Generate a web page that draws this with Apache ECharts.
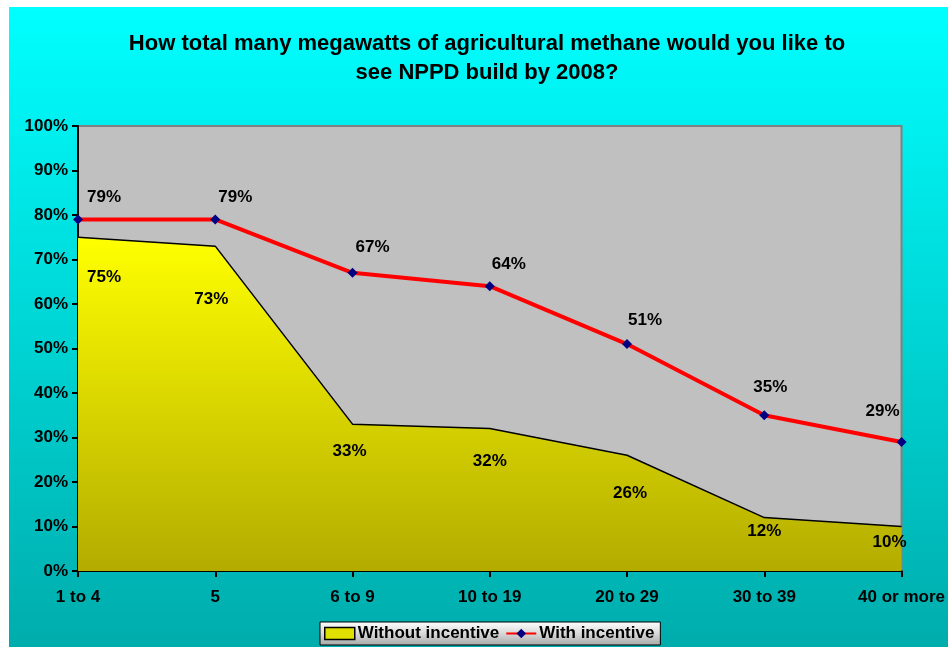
<!DOCTYPE html>
<html><head><meta charset="utf-8">
<script src="https://cdn.jsdelivr.net/npm/echarts@6/dist/echarts.min.js"></script>
<style>
html,body{margin:0;padding:0;background:#fff;width:948px;height:647px;overflow:hidden;}
#c{position:absolute;left:9px;top:7px;width:939px;height:640px;}
</style></head>
<body><div id="c"></div>
<script>
const titleText = 'How total many megawatts of agricultural methane would you like to\nsee NPPD build by 2008?';
const categories = ['1 to 4', '5', '6 to 9', '10 to 19', '20 to 29', '30 to 39', '40 or more'];
const withoutIncentive = [75, 73, 33, 32, 26, 12, 10];
const withIncentive = [79, 79, 67, 64, 51, 35, 29];
const yTicks = [0, 10, 20, 30, 40, 50, 60, 70, 80, 90, 100];
// label offsets (style only)
const withoutOffsets = [[26, 40], [-4, 53], [-3, 27], [0, 33], [3, 38], [0, 14], [-12, 16]];
const withOffsets = [[26, -22], [20, -22], [20, -26], [19, -22], [18, -24], [6, -28], [-19, -31]];

const chart = echarts.init(document.getElementById('c'), null, {renderer: 'canvas'});
const font = '"Liberation Sans", Arial, sans-serif';
const lbl = {fontFamily: font, fontWeight: 'bold', fontSize: 17, color: '#000'};

chart.setOption({
  animation: false,
  backgroundColor: new echarts.graphic.LinearGradient(0, 0, 0, 1, [
    {offset: 0, color: '#00FFFF'}, {offset: 1, color: '#00ACAC'}]),
  title: {
    text: titleText, left: 473, top: 17, textAlign: 'center',
    textStyle: {fontFamily: font, fontWeight: 'bold', fontSize: 22, lineHeight: 29, color: '#000'}
  },
  legend: {
    left: 311, top: 615, itemGap: 6, itemWidth: 30, itemHeight: 12,
    padding: [3, 6, 3, 4],
    backgroundColor: new echarts.graphic.LinearGradient(0, 0, 0, 1, [
      {offset: 0, color: '#FFFFFF'}, {offset: 0.5, color: '#D8D8D8'}, {offset: 1, color: '#A8A8A8'}]),
    borderColor: '#000', borderWidth: 1, borderRadius: 0,
    textStyle: {fontFamily: font, fontWeight: 'bold', fontSize: 17, color: '#000', padding: [0, 0, 0, -2]},
    data: [
      {name: 'Without incentive', icon: 'rect', itemStyle: {color: '#E0E000', borderColor: '#000', borderWidth: 1.5, opacity: 1}},
      {name: 'With incentive'}
    ]
  },
  grid: {left: 69, right: 44, top: 119, bottom: 76, show: true, backgroundColor: '#C0C0C0', borderColor: '#808080', borderWidth: 2},
  xAxis: {
    type: 'category', data: categories, boundaryGap: false,
    axisLine: {lineStyle: {color: '#000', width: 2}},
    axisTick: {show: true, alignWithLabel: true, length: 6, lineStyle: {color: '#000', width: 2}},
    axisLabel: {fontFamily: font, fontWeight: 'bold', fontSize: 17, color: '#000', margin: 18, interval: 0},
    splitLine: {show: false}
  },
  yAxis: {
    type: 'value', min: 0, max: 100, interval: 10,
    axisLine: {show: true, lineStyle: {color: '#000', width: 2}},
    axisTick: {show: true, length: 6, lineStyle: {color: '#000', width: 2}},
    axisLabel: {fontFamily: font, fontWeight: 'bold', fontSize: 17, color: '#000', margin: 10,
      formatter: v => yTicks.includes(v) ? v + '%' : ''},
    splitLine: {show: false}
  },
  series: [
    {
      name: 'Without incentive', type: 'line', z: 2,
      data: withoutIncentive.map((v, i) => ({value: v, label: {show: true, offset: withoutOffsets[i]}})),
      symbol: 'circle', symbolSize: 0, showSymbol: true,
      lineStyle: {color: '#000', width: 1.5},
      itemStyle: {color: '#E0E000'},
      areaStyle: {opacity: 1, color: new echarts.graphic.LinearGradient(0, 0, 0, 1, [
        {offset: 0, color: '#FFFF00'}, {offset: 1, color: '#B3AC00'}])},
      label: {show: true, position: 'inside', formatter: p => p.value + '%', ...lbl}
    },
    {
      name: 'With incentive', type: 'line', z: 3,
      data: withIncentive.map((v, i) => ({value: v, label: {offset: withOffsets[i]}})),
      symbol: 'diamond', symbolSize: 10,
      lineStyle: {color: '#FF0000', width: 4},
      itemStyle: {color: '#000080', borderWidth: 0},
      label: {show: true, position: 'inside', formatter: p => p.value + '%', ...lbl}
    }
  ]
});
</script></body></html>
